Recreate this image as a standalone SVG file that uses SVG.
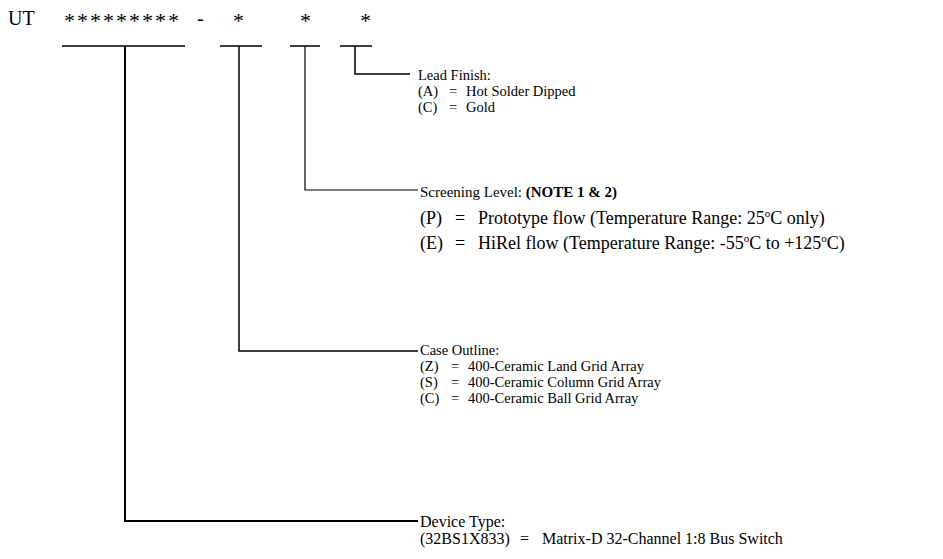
<svg xmlns="http://www.w3.org/2000/svg" width="943" height="559" viewBox="0 0 943 559">
<style>
text{font-family:"Liberation Serif","Times New Roman",serif;fill:#000}
.t{font-size:14.5px}
.p{font-size:18px}
.d{font-size:16px}
.h{font-size:20px}
.a{font-size:22px}
.b{font-weight:bold}
.ln{stroke:#000;stroke-width:1.5;fill:none}
</style>
<rect width="943" height="559" fill="#fff"/>
<g id="partnumber">
<text class="h" x="8" y="25">UT</text>
<text class="a" x="64" y="28" letter-spacing="2">*********</text>
<text class="h" x="197" y="25">-</text>
<text class="a" x="233" y="28">*</text>
<text class="a" x="300" y="28">*</text>
<text class="a" x="360" y="28">*</text>
</g>
<g id="connectors">
<path class="ln" d="M62 46H185M220 46H262M290 46H320M340 46H372"/>
<path class="ln" d="M355 46V74H410"/>
<path class="ln" d="M305 46V190H418" style="stroke-width:1.2"/>
<path class="ln" d="M239 46V351H418"/>
<path class="ln" d="M125 46V521H418" style="stroke-width:2"/>
</g>
<g id="lead-finish">
<text class="t" x="418" y="80">Lead Finish:</text>
<text class="t" x="418" y="96">(A)</text><text class="t" x="449" y="96">=</text><text class="t" x="466" y="96">Hot Solder Dipped</text>
<text class="t" x="418" y="112">(C)</text><text class="t" x="449" y="112">=</text><text class="t" x="466" y="112">Gold</text>
</g>
<g id="screening-level">
<text class="t" x="420" y="197" style="font-size:15px">Screening Level: <tspan class="b">(NOTE 1 &amp; 2)</tspan></text>
<text class="p" x="420" y="224">(P)</text><text class="p" x="455" y="224">=</text><text class="p" x="478" y="224">Prototype flow (Temperature Range: 25<tspan font-size="11" dy="-7">o</tspan><tspan dy="7">C only)</tspan></text>
<text class="p" x="420" y="249">(E)</text><text class="p" x="455" y="249">=</text><text class="p" x="478" y="249">HiRel flow (Temperature Range: -55<tspan font-size="11" dy="-7">o</tspan><tspan dy="7">C to +125</tspan><tspan font-size="11" dy="-7">o</tspan><tspan dy="7">C)</tspan></text>
</g>
<g id="case-outline">
<text class="t" x="420" y="355">Case Outline:</text>
<text class="t" x="420" y="371">(Z)</text><text class="t" x="451" y="371">=</text><text class="t" x="468" y="371">400-Ceramic Land Grid Array</text>
<text class="t" x="420" y="387">(S)</text><text class="t" x="451" y="387">=</text><text class="t" x="468" y="387">400-Ceramic Column Grid Array</text>
<text class="t" x="420" y="403">(C)</text><text class="t" x="451" y="403">=</text><text class="t" x="468" y="403">400-Ceramic Ball Grid Array</text>
</g>
<g id="device-type">
<text class="d" x="420" y="527">Device Type:</text>
<text class="d" x="420" y="544">(32BS1X833)</text><text class="d" x="520" y="544">=</text><text class="d" x="542" y="544">Matrix-D 32-Channel 1:8 Bus Switch</text>
</g>
</svg>
